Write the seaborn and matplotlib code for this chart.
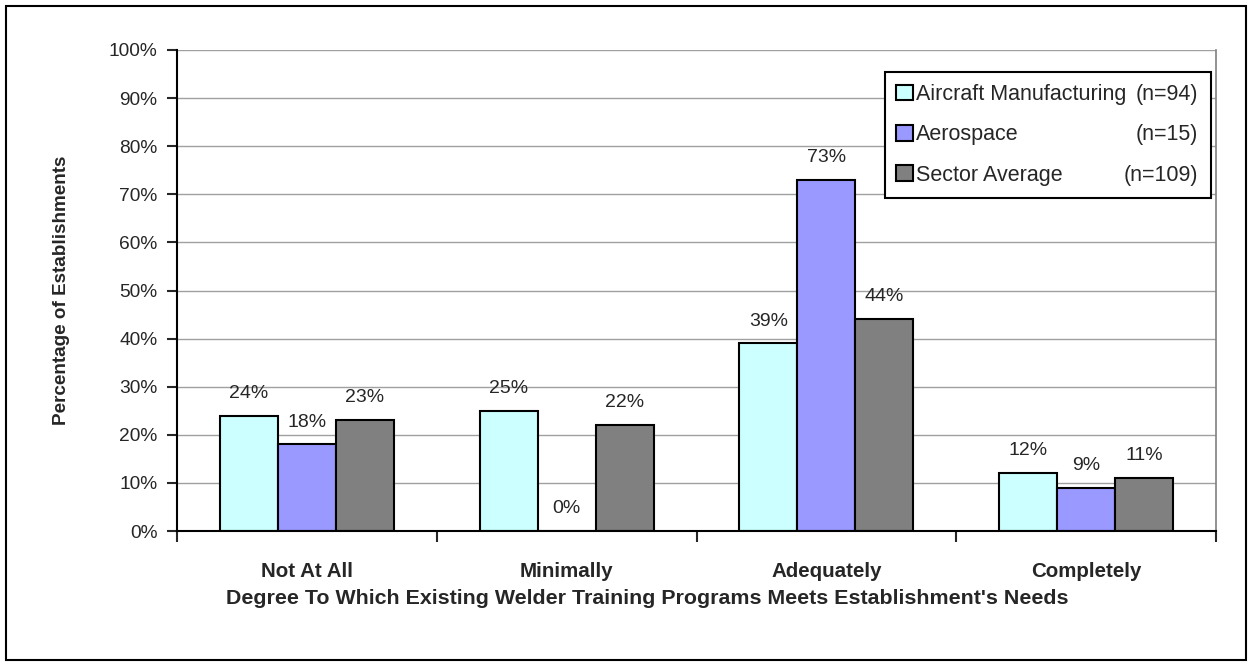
import numpy as np
import pandas as pd
import matplotlib
matplotlib.use("Agg")
import matplotlib.pyplot as plt
import seaborn as sns
from matplotlib.patches import Rectangle, Patch
from matplotlib.ticker import FixedLocator, PercentFormatter

# ---------------------------------------------------------
# DATA
# ---------------------------------------------------------
categories = ['Not At All', 'Minimally', 'Adequately', 'Completely']
groups = ['Aircraft Manufacturing', 'Aerospace', 'Sector Average']
group_n = [94, 15, 109]
aircraft = [24, 25, 39, 12]
aerospace = [18, 0, 73, 9]
sector_avg = [23, 22, 44, 11]
colors = ['#CCFFFF', '#9999FF', '#808080']

df = pd.DataFrame({
    'degree': categories * 3,
    'group': [g for g in groups for _ in categories],
    'pct': aircraft + aerospace + sector_avg,
})

# ---------------------------------------------------------
# PLOT
# ---------------------------------------------------------
sns.set_style("white")
plt.rcParams['font.family'] = ['Liberation Sans', 'DejaVu Sans']

fig = plt.figure(figsize=(12.52, 6.66), dpi=100)
ax = fig.add_axes([177 / 1252, 1 - 531 / 666, (1216 - 177) / 1252, (531 - 50) / 666])

sns.barplot(data=df, x='degree', y='pct', hue='group', order=categories,
            hue_order=groups, palette=colors, width=0.67,
            edgecolor='black', linewidth=1.5, saturation=1, ax=ax, legend=False)

for cont in ax.containers:
    ax.bar_label(cont, fmt='%d%%', padding=10, fontsize=14)

ax.set_ylim(0, 100)
ax.set_xlim(-0.5, len(categories) - 0.5)
ax.set_yticks(np.arange(0, 101, 10))
ax.yaxis.set_major_formatter(PercentFormatter(decimals=0))
ax.tick_params(axis='y', direction='out', length=7, width=1.5, labelsize=13.8, pad=7, left=True)
ax.yaxis.grid(True, color='#a0a0a0', linewidth=1)
ax.set_axisbelow(True)

# category boundaries as tick marks, names as minor labels
ax.xaxis.set_major_locator(FixedLocator(np.arange(-0.5, len(categories), 1)))
ax.xaxis.set_minor_locator(FixedLocator(np.arange(len(categories))))
ax.set_xticklabels([''] * (len(categories) + 1))
ax.set_xticklabels(categories, minor=True, fontsize=14.8, fontweight='bold')
ax.tick_params(axis='x', which='major', direction='out', length=8, width=1.5, bottom=True)
ax.tick_params(axis='x', which='minor', length=0, pad=22)

for s in ['left', 'bottom']:
    ax.spines[s].set_color('black')
    ax.spines[s].set_linewidth(1.5)
ax.spines['right'].set_color('#808080')
ax.spines['right'].set_linewidth(1.2)
ax.spines['top'].set_visible(False)

ax.set_xlabel("Degree To Which Existing Welder Training Programs Meets Establishment's Needs",
              fontsize=15.4, fontweight='bold')
ax.xaxis.set_label_coords(0.453, -0.12)
ax.set_ylabel('Percentage of Establishments', fontsize=13.6, fontweight='bold')
ax.yaxis.set_label_coords(-0.103, 0.50)

# legend with right-aligned sample sizes
handles = [Patch(facecolor=c, edgecolor='black', linewidth=1.5) for c in colors]
leg = ax.legend(handles, groups, loc='upper left', bbox_to_anchor=(0.681, 0.70, 0.314, 0.254),
                mode='expand', borderaxespad=0, fontsize=15.5, frameon=True, fancybox=False,
                handlelength=0.75, handleheight=0.75, handletextpad=0.14, labelspacing=0.9,
                borderpad=0.55)
leg.get_frame().set_edgecolor('black')
leg.get_frame().set_linewidth(1.5)
leg.get_frame().set_alpha(1)

fig.canvas.draw()
frame = leg.get_frame().get_window_extent()
for t, n in zip(leg.get_texts(), group_n):
    bb = t.get_window_extent()
    fig.text((frame.x1 - 13) / fig.bbox.width, (bb.y0 + bb.y1) / 2 / fig.bbox.height,
             f'(n={n})', ha='right', va='center', fontsize=15.5)

# outer border
fig.patches.append(Rectangle((6 / 1252, 6 / 666), 1240 / 1252, 654 / 666, transform=fig.transFigure,
                             fill=False, edgecolor='black', linewidth=1.5))

plt.savefig('out.png', dpi=100)
